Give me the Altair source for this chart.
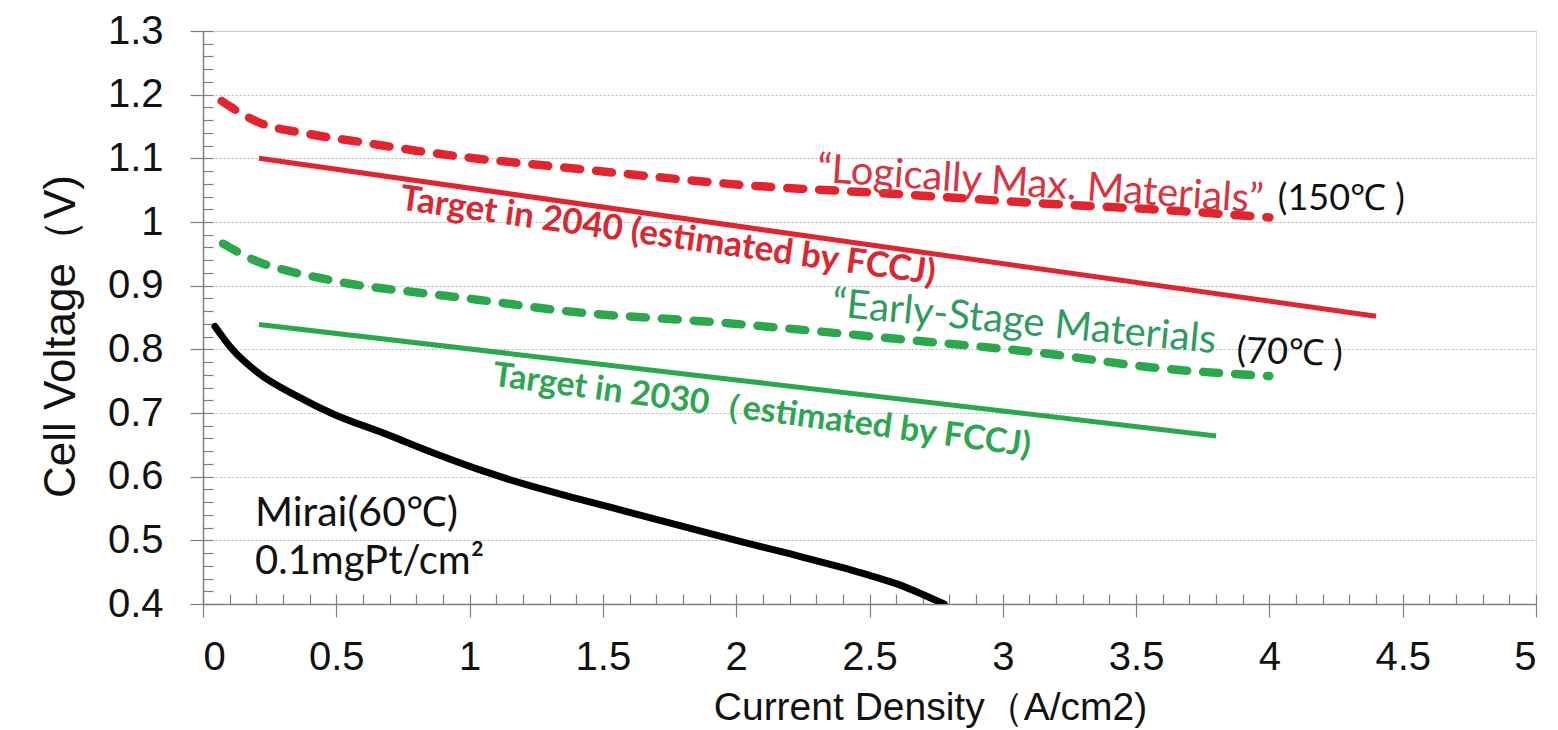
import altair as alt
import pandas as pd

# ---- data ----
mirai_x = [0.045, 0.11, 0.21, 0.36, 0.49, 0.68, 0.86, 1.05, 1.2, 1.4, 1.6, 1.8, 2.0, 2.2, 2.4, 2.5, 2.6, 2.7, 2.78]
mirai_y = [0.836, 0.80, 0.762, 0.725, 0.698, 0.668, 0.638, 0.609, 0.589, 0.566, 0.544, 0.522, 0.50, 0.479, 0.457, 0.445, 0.432, 0.415, 0.40]

maxmat_x = [0.07, 0.2, 0.4, 0.6, 0.8, 1.0, 1.3, 1.6, 2.0, 2.6, 3.2, 3.6, 4.0]
maxmat_y = [1.19, 1.158, 1.138, 1.125, 1.112, 1.101, 1.088, 1.075, 1.059, 1.044, 1.028, 1.019, 1.007]

t2040_x = [0.21, 2.3, 4.4]
t2040_y = [1.10, 0.976, 0.852]

early_x = [0.075, 0.21, 0.33, 0.44, 0.55, 0.79, 1.03, 1.34, 1.97, 2.59, 3.17, 3.55, 4.0]
early_y = [0.966, 0.937, 0.922, 0.912, 0.903, 0.89, 0.878, 0.861, 0.841, 0.817, 0.793, 0.772, 0.758]

t2030_x = [0.21, 2.0, 3.8]
t2030_y = [0.839, 0.752, 0.664]

x_major = [0, 0.5, 1, 1.5, 2, 2.5, 3, 3.5, 4, 4.5, 5]
y_major = [0.4, 0.5, 0.6, 0.7, 0.8, 0.9, 1, 1.1, 1.2, 1.3]
x_minor = [round(i * 0.1, 2) for i in range(0, 51)]
y_minor = [round(0.4 + i * 0.02, 2) for i in range(0, 46)]

# annotation texts and their anchor points (data units)
lab_maxmat = ["\u201cLogically Max. Materials\u201d", 3.14, 1.058]
lab_150 = ["(150\u2103 )", 4.27, 1.036]
lab_2040 = ["Target in 2040 (estimated by FCCJ)", 1.744, 0.978]
lab_early = ["\u201cEarly-Stage Materials", 3.08, 0.842]
lab_70 = ["(70\u2103 )", 4.076, 0.794]
lab_2030 = ["Target in 2030\uff08estimated by FCCJ)", 2.096, 0.703]
lab_mirai1 = ["Mirai(60\u2103)", 0.195, 0.542]
lab_mirai2 = ["0.1mgPt/cm\u00b2", 0.195, 0.466]

RED = "#e3242e"
GREEN = "#2ca84c"

W, H = 1333, 573
xs = alt.Scale(domain=[0, 5], nice=False, zero=False)
ys = alt.Scale(domain=[0.4, 1.3], nice=False, zero=False)


def series(xv, yv):
    return pd.DataFrame({"x": xv, "y": yv})


axis_font = "Liberation Sans"

main_x_axis = alt.Axis(
    orient="bottom", values=x_major, labelExpr="datum.value", tickSize=13,
    tickColor="#808080", domainColor="#808080", domainWidth=1.5, tickWidth=1.2,
    labelFont=axis_font, labelFontSize=40, labelColor="#111", labelPadding=20,
    grid=False, title="Current Density\uff08A/cm2)", titleFont=axis_font,
    titleFontSize=39, titleFontWeight="normal", titleColor="#111",
    titleX=727, titleY=115, titleBaseline="alphabetic", titleAnchor="middle",
)
main_y_axis = alt.Axis(
    orient="left", values=y_major, labelExpr="datum.value", tickSize=13,
    tickColor="#808080", domainColor="#808080", domainWidth=1.5, tickWidth=1.2,
    labelFont=axis_font, labelFontSize=40, labelColor="#111", labelPadding=27,
    grid=True, gridColor="#b5b5b5", gridDash=[2, 2], gridWidth=1.2,
    title="Cell Voltage\uff08V)", titleFont=axis_font, titleFontSize=44,
    titleFontWeight="normal", titleColor="#111", titleAngle=-90,
    titleX=-129, titleY=305, titleBaseline="alphabetic", titleAlign="center",
)
minor_x_axis = alt.Axis(
    orient="bottom", values=x_minor, offset=-10, tickSize=10, tickColor="#808080",
    tickWidth=1.2, labels=False, domain=False, grid=False, title=None,
)
minor_y_axis = alt.Axis(
    orient="left", values=y_minor, offset=-10, tickSize=10, tickColor="#808080",
    tickWidth=1.2, labels=False, domain=False, grid=False, title=None,
)

mirai = alt.Chart(series(mirai_x, mirai_y)).mark_line(
    color="#000", strokeWidth=7, strokeCap="round", clip=True, interpolate="monotone"
).encode(
    x=alt.X("x:Q", scale=xs, axis=main_x_axis),
    y=alt.Y("y:Q", scale=ys, axis=main_y_axis),
)

maxmat = alt.Chart(series(maxmat_x, maxmat_y)).mark_line(
    color=RED, strokeWidth=8.5, strokeDash=[16, 16], strokeCap="round", interpolate="monotone"
).encode(
    x=alt.X("x:Q", scale=xs, axis=minor_x_axis),
    y=alt.Y("y:Q", scale=ys, axis=minor_y_axis),
)

t2040 = alt.Chart(series(t2040_x, t2040_y)).mark_line(
    color=RED, strokeWidth=5
).encode(
    x=alt.X("x:Q", scale=xs, axis=None),
    y=alt.Y("y:Q", scale=ys, axis=None),
)

early = alt.Chart(series(early_x, early_y)).mark_line(
    color=GREEN, strokeWidth=8.5, strokeDash=[16, 16], strokeCap="round", interpolate="monotone"
).encode(
    x=alt.X("x:Q", scale=xs, axis=None),
    y=alt.Y("y:Q", scale=ys, axis=None),
)

t2030 = alt.Chart(series(t2030_x, t2030_y)).mark_line(
    color=GREEN, strokeWidth=5
).encode(
    x=alt.X("x:Q", scale=xs, axis=None),
    y=alt.Y("y:Q", scale=ys, axis=None),
)


def label(item, **style):
    df = pd.DataFrame({"t": [item[0]], "x": [item[1]], "y": [item[2]]})
    return alt.Chart(df).mark_text(**style).encode(
        x=alt.X("x:Q", scale=xs, axis=None),
        y=alt.Y("y:Q", scale=ys, axis=None),
        text="t:N",
    )


texts = [
    label(lab_maxmat, font="Lato", fontSize=40, color="#d8343f", angle=4, baseline="middle", align="center"),
    label(lab_150, font="Lato", fontSize=36, color="#111", baseline="middle", align="center"),
    label(lab_2040, font="Lato", fontSize=35, fontWeight="bold", color="#dc2630", angle=8, baseline="middle", align="center"),
    label(lab_early, font="Lato", fontSize=40, color="#2e9c5e", angle=5.5, baseline="middle", align="center"),
    label(lab_70, font="Lato", fontSize=36, color="#111", baseline="middle", align="center", angle=2),
    label(lab_2030, font="Lato", fontSize=34, fontWeight="bold", color="#2ea552", angle=7.5, baseline="middle", align="center"),
    label(lab_mirai1, font="Lato", fontSize=41, color="#111", baseline="middle", align="left"),
    label(lab_mirai2, font="Lato", fontSize=40, color="#111", baseline="middle", align="left"),
]

chart = alt.layer(mirai, maxmat, t2040, early, t2030, *texts).resolve_axis(
    x="independent", y="independent"
).properties(
    width=W, height=H,
    autosize=alt.AutoSizeParams(type="none"),
    padding={"left": 195, "top": 23, "right": 14, "bottom": 124},
).configure_view(
    stroke="#808080", strokeWidth=1.5
).configure(background="white")

chart.save("out.html", embed_options={"renderer": "svg", "actions": False})
